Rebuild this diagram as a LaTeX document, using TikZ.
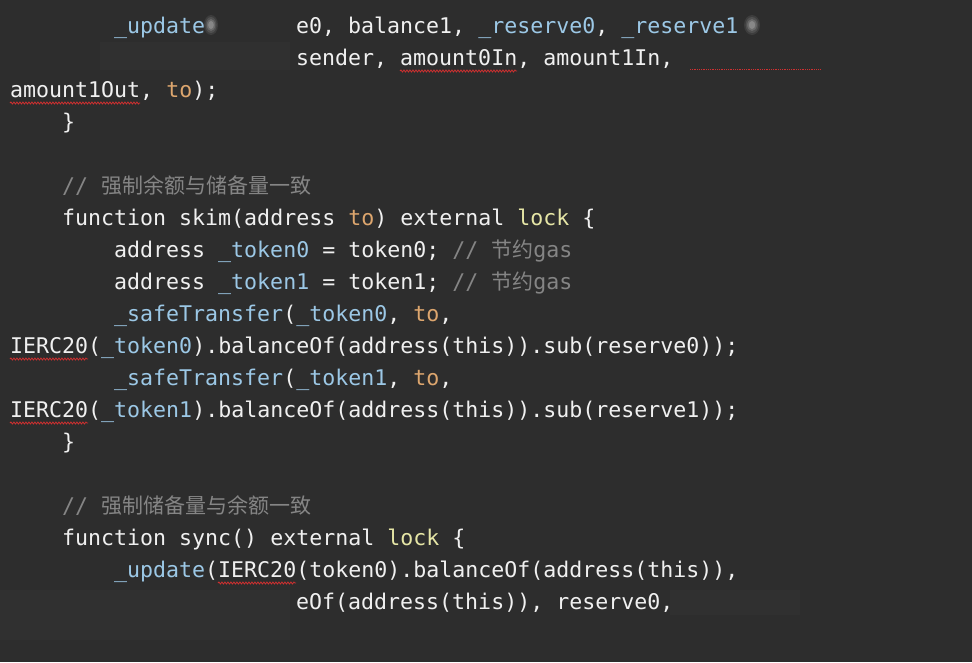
\documentclass[tikz,border=0pt]{standalone}
\usepackage{fontspec}
\setmonofont{DejaVu Sans Mono}
\newfontfamily\cjk{Noto Sans CJK SC}
\usetikzlibrary{decorations.pathmorphing}
\definecolor{bgc}{HTML}{2D2D2D}
\definecolor{txc}{HTML}{F0F0F0}
\definecolor{blc}{HTML}{9CC8E6}
\definecolor{orc}{HTML}{DDA66E}
\definecolor{ylc}{HTML}{E6E6A6}
\definecolor{cmc}{HTML}{858585}
\definecolor{sqc}{HTML}{D03030}
\newcommand\bl[1]{\textcolor{blc}{#1}}
\newcommand\og[1]{\textcolor{orc}{#1}}
\newcommand\yl[1]{\textcolor{ylc}{#1}}
\newcommand\cm[1]{\textcolor{cmc}{#1}}
\newcommand\zh[1]{{\cjk\fontsize{21}{24}\selectfont #1}}
\tikzset{codeline/.style={anchor=base west,inner sep=0pt,text=txc,font=\ttfamily\fontsize{21.6}{26}\selectfont},
squig/.style={sqc,line width=0.8pt,decorate,decoration={snake,amplitude=1pt,segment length=3pt}},
smudge/.style={fill=white,fill opacity=0.015,draw=none}}
\begin{document}
\begin{tikzpicture}[x=1pt,y=-1pt]
\fill[bgc] (0,0) rectangle (972,662);
\useasboundingbox (0,0) rectangle (972,662);
\def\cw{13}
\node[codeline] (l0a) at (10+8*\cw,33) {\bl{\_update}};
\node[codeline] (l0b) at (10+22*\cw,33) {e0, balance1, \bl{\_reserve0}, \bl{\_reserve1}};
\node[codeline] (l1) at (10+22*\cw,65) {sender, amount0In, amount1In,};
\node[codeline] (l2) at (10,97) {amount1Out, \og{to});};
\node[codeline] (l3) at (10+4*\cw,129) {\}};
\node[codeline] (l5) at (10+4*\cw,193) {\cm{// \zh{强制余额与储备量一致}}};
\node[codeline] (l6) at (10+4*\cw,225) {function skim(address \og{to}) external \yl{lock} \{};
\node[codeline] (l7) at (10+8*\cw,257) {address \bl{\_token0} = token0; \cm{// \zh{节约}gas}};
\node[codeline] (l8) at (10+8*\cw,289) {address \bl{\_token1} = token1; \cm{// \zh{节约}gas}};
\node[codeline] (l9) at (10+8*\cw,321) {\bl{\_safeTransfer}(\bl{\_token0}, \og{to},};
\node[codeline] (l10) at (10,353) {IERC20(\bl{\_token0}).balanceOf(address(this)).sub(reserve0));};
\node[codeline] (l11) at (10+8*\cw,385) {\bl{\_safeTransfer}(\bl{\_token1}, \og{to},};
\node[codeline] (l12) at (10,417) {IERC20(\bl{\_token1}).balanceOf(address(this)).sub(reserve1));};
\node[codeline] (l13) at (10+4*\cw,449) {\}};
\node[codeline] (l15) at (10+4*\cw,513) {\cm{// \zh{强制储备量与余额一致}}};
\node[codeline] (l16) at (10+4*\cw,545) {function sync() external \yl{lock} \{};
\node[codeline] (l17) at (10+8*\cw,577) {\bl{\_update}(IERC20(token0).balanceOf(address(this)),};
\node[codeline] (l18) at (10+22*\cw,609) {eOf(address(this)), reserve0,};
% squiggles
\draw[squig] (10+30*\cw,71) -- (10+39*\cw,71);
\draw[squig] (10,103) -- (10+10*\cw,103);
\draw[squig] (10,359) -- (10+6*\cw,359);
\draw[squig] (10,423) -- (10+6*\cw,423);
\draw[squig] (10+16*\cw,583) -- (10+22*\cw,583);
\draw[sqc,densely dotted,line width=0.8pt] (690,69) -- (820,69);
% smudges
\foreach \r/\o in {10/0.08,8/0.1,6/0.15,4/0.2}{
  \fill[white,fill opacity=\o] (211,25) ellipse (\r*0.7 and \r);
  \fill[white,fill opacity=\o] (752,25) ellipse (\r*0.8 and \r);
}
\fill[smudge] (100,42) rectangle (290,70);
\fill[smudge] (0,590) rectangle (290,640);
\fill[smudge] (670,590) rectangle (800,615);
\end{tikzpicture}
\end{document}
